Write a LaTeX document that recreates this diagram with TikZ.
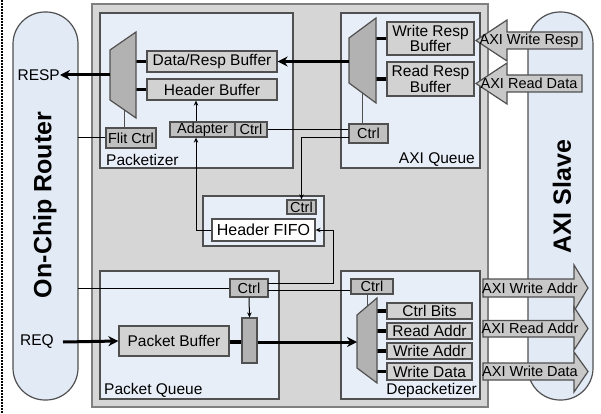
\documentclass[tikz,border=0pt]{standalone}
\usepackage{fontspec}
\setmainfont{Liberation Sans}
\usetikzlibrary{arrows.meta}
\definecolor{bggray}{RGB}{214,214,214}
\definecolor{panelblue}{RGB}{232,238,248}
\definecolor{pillblue}{RGB}{226,234,246}
\definecolor{boxgray}{RGB}{210,210,210}
\definecolor{ctrlgray}{RGB}{192,192,192}
\definecolor{muxgray}{RGB}{178,178,178}
\definecolor{edgegray}{RGB}{80,80,80}
\definecolor{arrgray}{RGB}{200,200,200}
\tikzset{
  panel/.style={draw=edgegray, line width=1.2pt, fill=panelblue},
  pill/.style={draw=edgegray, line width=1.2pt, fill=pillblue, rounded corners=32pt},
  buf/.style={draw=edgegray, line width=1.3pt, fill=boxgray, inner sep=0pt, font=\fontsize{15.5}{15.5}\selectfont},
  cbox/.style={draw=edgegray, line width=1.3pt, fill=ctrlgray, inner sep=0pt, font=\fontsize{14.5}{14.5}\selectfont},
  fifobox/.style={draw=edgegray, line width=1.3pt, fill=white, inner sep=0pt, font=\fontsize{16}{16}\selectfont},
  muxst/.style={draw=edgegray, line width=1.2pt, fill=muxgray},
  bus/.style={line width=3pt, -{Stealth[length=10pt,width=10pt]}},
  stub/.style={line width=3.5pt},
  sig/.style={line width=1pt, black},
  sigarr/.style={line width=1pt, -{Stealth[length=5pt,width=4.5pt]}},
  grayln/.style={line width=1pt, draw=edgegray},
  blockarr/.style={draw=edgegray, line width=1.2pt, fill=arrgray},
  alabel/.style={inner sep=0pt, font=\fontsize{14.5}{14.5}\selectfont},
  plabel/.style={inner sep=0pt, font=\fontsize{15.5}{15.5}\selectfont},
  biglabel/.style={inner sep=0pt, font=\fontsize{25}{25}\selectfont\bfseries, rotate=90},
}
\begin{document}
\begin{tikzpicture}[x=1pt,y=-1pt]
\useasboundingbox (0,0) rectangle (601,414);
\fill[white] (0,0) rectangle (601,414);
% dotted border line
\draw[line width=1.5pt, dash pattern=on 2pt off 1pt] (2,0) -- (2,414);
% pills
\draw[pill] (13,12) rectangle (78,400);
\coordinate (routerE) at (78,0);
\draw[pill] (528,12) rectangle (593,400);
\node[biglabel] (router) at (45,205) {On-Chip Router};
\node[biglabel] (slave) at (562,197) {AXI Slave};
% main box
\draw[draw=gray, line width=1.2pt, fill=bggray] (92,4) rectangle (488,407);
% panels
\draw[panel] (100,13) rectangle (293,168);
\draw[panel] (341,13) rectangle (480,168);
\draw[panel] (100,271) rectangle (279,399);
\draw[panel] (341,271) rectangle (480,399);
\draw[panel] (203,196) rectangle (324,246);
\node[plabel, anchor=west] (lpk) at (106,160) {Packetizer};
\node[plabel, anchor=east] (laq) at (475,160) {AXI Queue};
\node[plabel, anchor=west] (lpq) at (104,390) {Packet Queue};
\node[plabel, anchor=east] (ldp) at (477,390) {Depacketizer};

% ---------- Packetizer ----------
\node[buf, minimum width=130pt, minimum height=21pt] (drb) at (212,61.5) {Data/Resp Buffer};
\node[buf, minimum width=130pt, minimum height=21pt] (hb) at (212,89.5) {Header Buffer};
\node[cbox, minimum width=65pt, minimum height=15pt] (adapt) at (202.5,129.5) {Adapter};
\node[cbox, minimum width=32pt, minimum height=15pt] (actrl) at (251,129.5) {Ctrl};
\node[cbox, minimum width=50pt, minimum height=20pt] (flit) at (131,138) {Flit Ctrl};
\coordinate (pmuxL) at (110,75);
\coordinate (pmuxB) at (124,110);
\draw[grayln] (pmuxB) -- (pmuxB |- flit.north);
\draw[sig] (routerE |- flit.west) -- (flit.west);
\draw[stub] (136,61.5) -- (drb.west);
\draw[stub] (136,89.5) -- (hb.west);
\draw[muxst] (110,50) -- (136,32) -- (136,118) -- (110,100) -- cycle;
\node[plabel, anchor=east] (resp) at (60,75) {RESP};
\draw[bus] (pmuxL) -- (resp.east);
\draw[sigarr] (adapt.north -| 196,0) -- (hb.south -| 196,0);

% ---------- AXI Queue ----------
\node[buf, align=center, minimum width=87pt, minimum height=33pt] (wrb) at (430.5,38.5) {Write Resp\\Buffer};
\node[buf, align=center, minimum width=87pt, minimum height=34pt] (rrb) at (430.5,79) {Read Resp\\Buffer};
\node[cbox, minimum width=39pt, minimum height=19pt] (qctrl) at (368.5,133.5) {Ctrl};
\coordinate (amuxL) at (349,61.5);
\coordinate (amuxB) at (362,93);
\draw[grayln] (amuxB) -- (amuxB |- qctrl.north);
\draw[stub] (376,38.5) -- (wrb.west);
\draw[stub] (376,79) -- (rrb.west);
\draw[muxst] (349,38) -- (376,18) -- (376,103) -- (349,83) -- cycle;
\draw[bus] (amuxL) -- (drb.east);
\draw[sig] (actrl.east) -- (actrl.east -| qctrl.west);

% ---------- Header FIFO ----------
\node[cbox, minimum width=29pt, minimum height=14pt] (fctrl) at (301.5,207) {Ctrl};
\node[fifobox, minimum width=103pt, minimum height=22pt] (fifo) at (263.5,230) {Header FIFO};
\coordinate (qc2) at (349,138);
\draw[sigarr] (qc2) -- (301.5,138) -- (fctrl.north);
\draw[sigarr] (fifo.west) -- (196,230) -- (adapt.south -| 196,0);

% ---------- Packet Queue ----------
\node[cbox, minimum width=38pt, minimum height=18pt] (pctrl) at (249,288) {Ctrl};
\node[draw=edgegray, line width=1.2pt, fill=muxgray, minimum width=15pt, minimum height=45pt, inner sep=0pt] (bar) at (249.5,340.5) {};
\node[buf, minimum width=110pt, minimum height=30pt] (pbuf) at (174,341) {Packet Buffer};
\draw[sig] (routerE |- pctrl.west) -- (pctrl.west);
\draw[sigarr] (pctrl.south) -- (bar.north);
\draw[sigarr] (268,283.5) -- (333,283.5) -- (333,230) -- (fifo.east);
\node[plabel, anchor=west] (req) at (20,342) {REQ};
\draw[bus] (63,342) -- (pbuf.west);
\draw[stub] (pbuf.east |- 0,342) -- (bar.west |- 0,342);

% ---------- Depacketizer ----------
\node[cbox, minimum width=42pt, minimum height=15pt] (dctrl) at (372,286.5) {Ctrl};
\draw[sig] (268,290) -- (dctrl.west |- 0,290);
\node[buf, minimum width=85pt, minimum height=16pt] (cbits) at (429.5,311) {Ctrl Bits};
\node[buf, minimum width=85pt, minimum height=16pt] (raddr) at (429.5,331) {Read Addr};
\node[buf, minimum width=85pt, minimum height=16pt] (waddr) at (429.5,351) {Write Addr};
\node[buf, minimum width=85pt, minimum height=17pt] (wdata) at (429.5,371.5) {Write Data};
\coordinate (dmuxT) at (367,307);
\coordinate (dmuxL) at (357,342);
\draw[grayln] (dctrl.south -| dmuxT) -- (dmuxT);
\draw[stub] (377,311) -- (cbits.west);
\draw[stub] (377,331) -- (raddr.west);
\draw[stub] (377,351) -- (waddr.west);
\draw[stub] (377,371.5) -- (wdata.west);
\draw[muxst] (357,315) -- (377,298) -- (377,383) -- (357,368) -- cycle;
\draw[bus] (bar.east |- 0,342) -- (dmuxL);

% ---------- block arrows ----------
\draw[blockarr] (582,32) -- (507,32) -- (507,20) -- (476,40.5) -- (507,61) -- (507,49) -- (582,49) -- cycle;
\node[alabel] (awr) at (529,40.5) {AXI Write Resp};
\draw[blockarr] (582,75) -- (507,75) -- (507,63) -- (476,83.5) -- (507,104) -- (507,92) -- (582,92) -- cycle;
\node[alabel] (ard) at (529,83.5) {AXI Read Data};
\draw[blockarr] (483,279) -- (574,279) -- (574,265) -- (588,288) -- (574,311) -- (574,297) -- (483,297) -- cycle;
\node[alabel] (awa) at (530,288) {AXI Write Addr};
\draw[blockarr] (483,320.5) -- (574,320.5) -- (574,307) -- (588,328.5) -- (574,350) -- (574,337) -- (483,337) -- cycle;
\node[alabel] (araddr) at (530,328.5) {AXI Read Addr};
\draw[blockarr] (483,363) -- (574,363) -- (574,352) -- (588,371.5) -- (574,392) -- (574,380) -- (483,380) -- cycle;
\node[alabel] (awd) at (530,371.5) {AXI Write Data};
\end{tikzpicture}
\end{document}
